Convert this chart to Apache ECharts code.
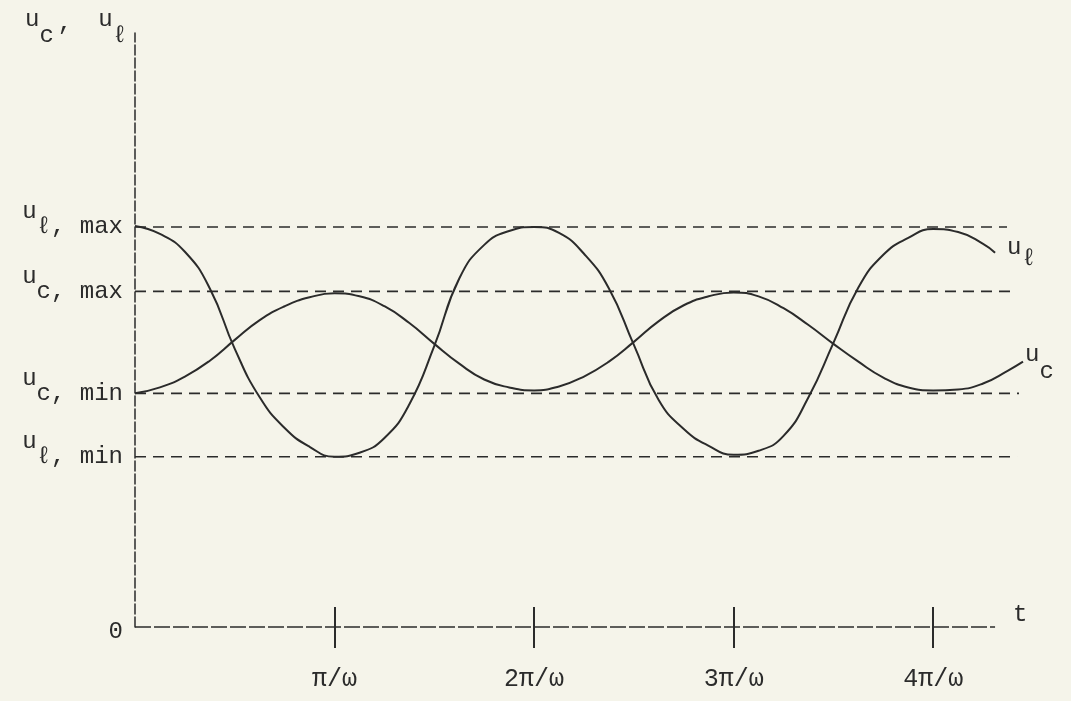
<!DOCTYPE html>
<html><head><meta charset="utf-8">
<script src="https://cdn.jsdelivr.net/npm/echarts@6/dist/echarts.min.js"></script>
<style>html,body{margin:0;padding:0;background:#f5f4ea}#c{width:1071px;height:701px}</style>
</head><body><div id="c"></div>
<script>
// ---- data ----
const tickValues = [1, 2, 3, 4];
const tickLabels = ['π/ω', '2π/ω', '3π/ω', '4π/ω'];
const levelNames = ['ℓ, max', 'c, max', 'c, min', 'ℓ, min'];
const levelValues = [4.04, 3.39, 2.36, 1.72];
const levelEnds = [4.37, 4.40, 4.43, 4.42];
const axisEnd = 4.31;
const ulT = [0,0.125,0.25,0.375,0.5,0.625,0.75,0.875,1,1.125,1.25,1.375,1.5,1.625,1.75,1.875,2,2.125,2.25,2.375,2.5,2.625,2.75,2.875,3,3.125,3.25,3.375,3.5,3.625,3.75,3.875,4,4.125,4.25,4.31];
const ulV = [4.05,3.97,3.79,3.42,2.81,2.32,2.01,1.82,1.72,1.76,1.91,2.25,2.84,3.52,3.86,4.00,4.04,3.98,3.77,3.42,2.85,2.29,2.00,1.83,1.74,1.78,1.93,2.32,2.87,3.43,3.76,3.93,4.02,3.99,3.87,3.78];
const ucT = [0,0.125,0.25,0.375,0.5,0.625,0.75,0.875,1,1.125,1.25,1.375,1.5,1.625,1.75,1.875,2,2.125,2.25,2.375,2.5,2.625,2.75,2.875,3,3.125,3.25,3.375,3.5,3.625,3.75,3.875,4,4.125,4.25,4.375,4.45];
const ucV = [2.36,2.42,2.53,2.69,2.90,3.10,3.24,3.33,3.37,3.34,3.24,3.07,2.86,2.66,2.50,2.42,2.39,2.43,2.53,2.68,2.88,3.09,3.25,3.34,3.38,3.34,3.22,3.05,2.86,2.68,2.52,2.42,2.39,2.40,2.46,2.59,2.68];

// ---- styling ----
const INK = '#2b2b2b';
const MONO = "'Liberation Mono', 'DejaVu Sans Mono', monospace";
const zip = (a, b) => a.map((t, i) => [t, b[i]]);

const chart = echarts.init(document.getElementById('c'), null, {renderer: 'canvas'});
const levelSeries = levelValues.map((v, i) => ({
  type: 'line', data: [[0, v], [levelEnds[i], v]], symbol: 'none', silent: true, clip: false,
  lineStyle: {color: INK, width: 1.6, type: [11, 7]}, z: 1
}));

chart.setOption({
  backgroundColor: '#f5f4ea',
  animation: false,
  grid: {left: 135, right: 48, top: 33, bottom: 74},
  xAxis: [{
    type: 'value', min: 0, max: 4.45, splitLine: {show: false},
    axisLine: {show: false},
    axisTick: {show: true, customValues: tickValues, length: 21, lineStyle: {color: INK, width: 2}},
    axisLabel: {customValues: tickValues, margin: 40, color: INK, fontFamily: MONO, fontSize: 25,
      formatter: v => tickLabels[tickValues.indexOf(v)]}
  }, {
    type: 'value', min: 0, max: 4.45, position: 'bottom', splitLine: {show: false},
    axisLine: {show: false}, axisLabel: {show: false},
    axisTick: {show: true, inside: true, customValues: tickValues, length: 20, lineStyle: {color: INK, width: 2}}
  }],
  yAxis: {
    type: 'value', min: 0, max: 6, splitLine: {show: false},
    axisLine: {show: true, lineStyle: {color: '#363636', width: 1.6, type: [10, 3]}},
    axisTick: {show: false},
    axisLabel: {
      customValues: [0].concat(levelValues), margin: 12, color: INK, fontFamily: MONO,
      formatter: v => v === 0 ? '{z|0}' : '{u|u}{m|' + levelNames[levelValues.indexOf(v)] + '}',
      rich: {
        z: {fontFamily: MONO, fontSize: 24, color: INK, padding: [10, 0, 0, 0]},
        u: {fontFamily: MONO, fontSize: 24, color: INK, padding: [0, 0, 30, 0]},
        m: {fontFamily: MONO, fontSize: 24, color: INK}
      }
    },
    name: '{u|u}{s|c}{p|,}{g| }{u|u}{s|ℓ}',
    nameLocation: 'end', nameGap: 5,
    nameTextStyle: {
      align: 'right', verticalAlign: 'middle', padding: [0, 8, 0, 0],
      rich: {
        u: {fontFamily: MONO, fontSize: 24, color: INK, padding: [0, 0, 16, 0]},
        s: {fontFamily: MONO, fontSize: 24, color: INK, padding: [16, 0, 0, 0]},
        p: {fontFamily: MONO, fontSize: 24, color: INK, padding: [0, 0, 8, 4]},
        g: {fontFamily: MONO, fontSize: 24, width: 26}
      }
    }
  },
  series: levelSeries.concat([
    {
      type: 'line', name: 'axis', data: [[0, 0], [axisEnd, 0]], symbol: 'none', silent: true, clip: false,
      lineStyle: {color: INK, width: 1.6, type: [16, 3]}, z: 2,
      endLabel: {show: true, formatter: 't', distance: 18, offset: [0, -12], color: INK, fontFamily: MONO, fontSize: 24}
    },
    {
      type: 'line', name: 'ul', data: zip(ulT, ulV), smooth: 0.5, symbol: 'none', clip: false,
      lineStyle: {color: INK, width: 2}, z: 3,
      endLabel: {show: true, distance: 12, formatter: '{u|u}{s|ℓ}',
        rich: {u: {fontFamily: MONO, fontSize: 24, color: INK, padding: [0, 0, 10, 0]},
               s: {fontFamily: MONO, fontSize: 24, color: INK, padding: [12, 0, 0, 0]}}}
    },
    {
      type: 'line', name: 'uc', data: zip(ucT, ucV), smooth: 0.5, symbol: 'none', clip: false,
      lineStyle: {color: INK, width: 2}, z: 3,
      endLabel: {show: true, distance: 2, formatter: '{u|u}{s|c}',
        rich: {u: {fontFamily: MONO, fontSize: 24, color: INK, padding: [0, 0, 14, 0]},
               s: {fontFamily: MONO, fontSize: 24, color: INK, padding: [20, 0, 0, 0]}}}
    }
  ])
});
</script></body></html>
